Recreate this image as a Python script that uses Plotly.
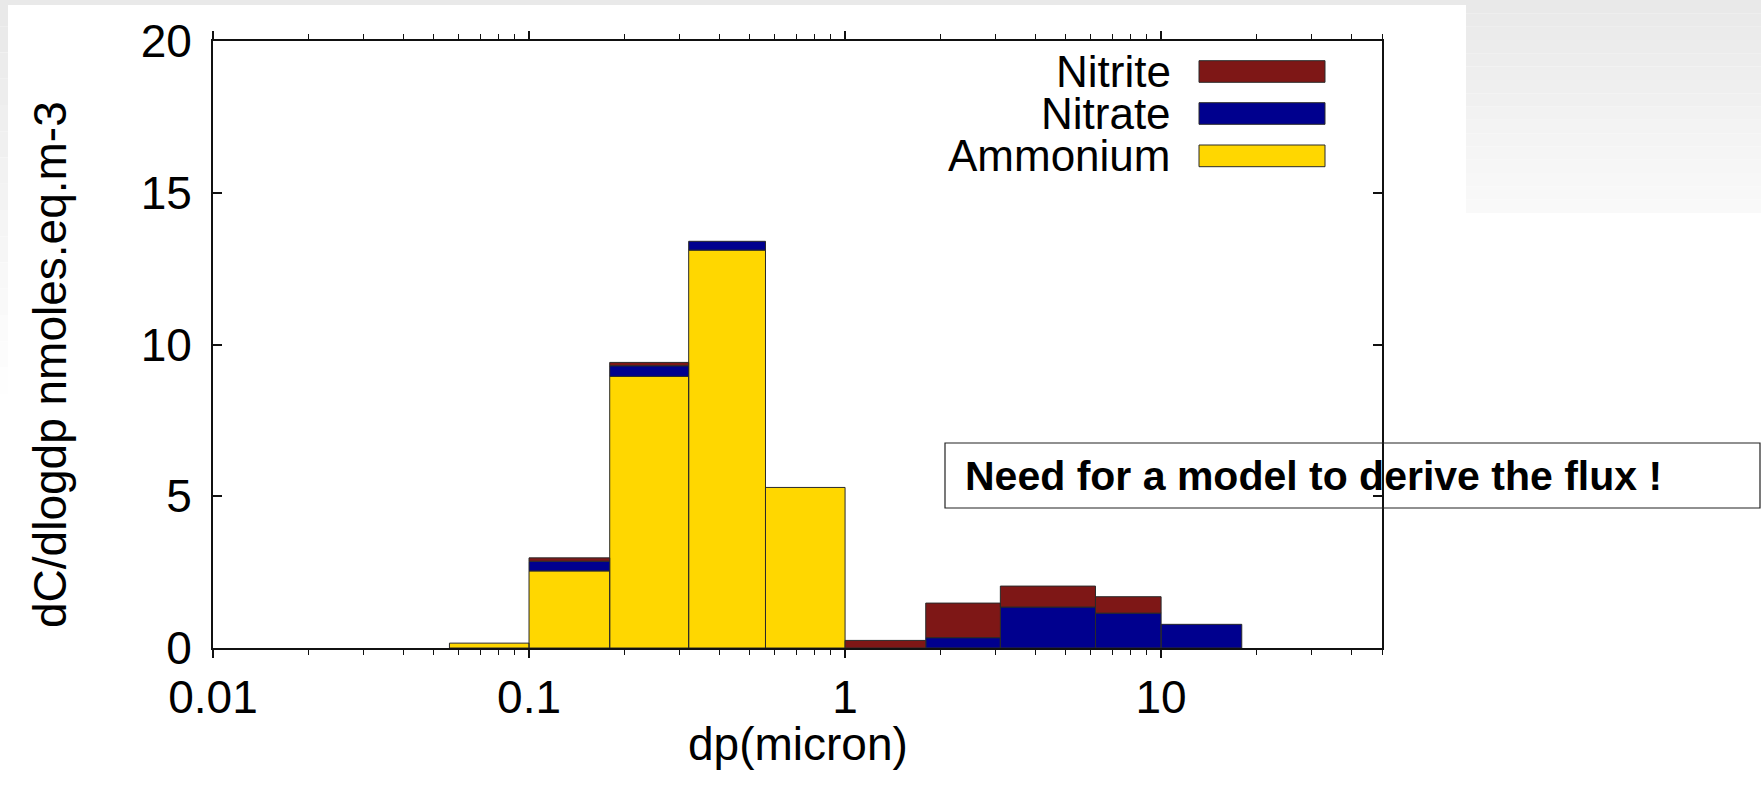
import plotly.graph_objects as go

# Size-resolved ion concentrations (cascade impactor stages)
bin_lower = [0.056, 0.1, 0.18, 0.32, 0.56, 1.0, 1.8, 3.1, 6.2, 10.0]
bin_upper = [0.1, 0.18, 0.32, 0.56, 1.0, 1.8, 3.1, 6.2, 10.0, 18.0]
ammonium = [0.16, 2.54, 8.95, 13.11, 5.29, 0.0, 0.0, 0.0, 0.0, 0.0]
nitrate = [0.0, 0.32, 0.35, 0.29, 0.0, 0.0, 0.34, 1.35, 1.15, 0.78]
nitrite = [0.0, 0.11, 0.11, 0.0, 0.0, 0.25, 1.14, 0.69, 0.54, 0.0]

series_names = ["Nitrite", "Nitrate", "Ammonium"]
series_colors = {"Ammonium": "#FFD700", "Nitrate": "#00008E", "Nitrite": "#7E1716"}

x_tick_vals = [0.01, 0.1, 1, 10]
x_tick_text = ["0.01", "0.1", "1", "10"]
y_tick_vals = [0, 5, 10, 15, 20]

W, H = 1761, 785
ML, MR, MT, MB = 213, 379, 41, 137
PW, PH = W - ML - MR, H - MT - MB


def px_x(px):
    return (px - ML) / PW


def px_y(py):
    return (H - MB - py) / PH


FONT = "Liberation Sans, Arial, Helvetica, sans-serif"
TXT = 46

fig = go.Figure()

# stacked histogram: each species drawn as closed rectangles on top of the previous one
stack = [0.0] * len(bin_lower)
for name, values in [("Ammonium", ammonium), ("Nitrate", nitrate), ("Nitrite", nitrite)]:
    xs, ys = [], []
    for i, v in enumerate(values):
        if v <= 0:
            continue
        lo, hi = bin_lower[i], bin_upper[i]
        b, t = stack[i], stack[i] + v
        xs += [lo, lo, hi, hi, lo, None]
        ys += [b, t, t, b, b, None]
        stack[i] = t
    fig.add_trace(go.Scatter(
        x=xs, y=ys, mode="lines", fill="toself",
        fillcolor=series_colors[name],
        line=dict(color="#2a2a2a", width=1),
        name=name, showlegend=False, hoverinfo="skip",
    ))

shapes = []


def band_gradient(x0, x1, y0, y1, c0, c1, n=16):
    for k in range(n):
        f = k / (n - 1)
        c = [round(c0[j] + (c1[j] - c0[j]) * f) for j in range(3)]
        ya = y0 + (y1 - y0) * k / n
        yb = y0 + (y1 - y0) * (k + 1) / n
        shapes.append(dict(
            type="rect", xref="paper", yref="paper", layer="below",
            x0=px_x(x0), x1=px_x(x1), y0=px_y(ya), y1=px_y(yb),
            fillcolor="rgb(%d,%d,%d)" % tuple(c), line=dict(width=0),
        ))


# slide background around the chart panel
band_gradient(1466, W, 0, 213, (233, 233, 233), (249, 249, 249))
band_gradient(0, 8, 0, 420, (233, 233, 233), (255, 255, 255))
shapes.append(dict(type="rect", xref="paper", yref="paper", layer="below",
                   x0=px_x(0), x1=px_x(W), y0=px_y(0), y1=px_y(5),
                   fillcolor="rgb(233,233,233)", line=dict(width=0)))

# legend swatches (text to the left, colour box to the right)
legend_rows = {"Nitrite": (60.7, 82.3), "Nitrate": (102.7, 124.3), "Ammonium": (145.0, 166.7)}
annotations = []
for name in series_names:
    top, bot = legend_rows[name]
    shapes.append(dict(type="rect", xref="paper", yref="paper",
                       x0=px_x(1199), x1=px_x(1325), y0=px_y(bot), y1=px_y(top),
                       fillcolor=series_colors[name], line=dict(color="#2a2a2a", width=1)))
    annotations.append(dict(xref="paper", yref="paper", x=px_x(1172), y=px_y((top + bot) / 2),
                            text=name, showarrow=False, xanchor="right", yanchor="middle",
                            borderpad=0,
                            font=dict(family=FONT, size=44, color="black")))

# axis titles
annotations.append(dict(xref="paper", yref="paper", x=px_x(50), y=px_y(365),
                        text="dC/dlogdp nmoles.eq.m-3", textangle=-90, showarrow=False,
                        xanchor="center", yanchor="middle",
                        font=dict(family=FONT, size=TXT, color="black")))
annotations.append(dict(xref="paper", yref="paper", x=0.5, y=px_y(744),
                        text="dp(micron)", showarrow=False,
                        xanchor="center", yanchor="middle",
                        font=dict(family=FONT, size=TXT, color="black")))

# callout box
shapes.append(dict(type="rect", xref="paper", yref="paper",
                   x0=px_x(945), x1=px_x(1760), y0=px_y(508), y1=px_y(443),
                   line=dict(color="#222", width=1.2), fillcolor="rgba(0,0,0,0)"))
annotations.append(dict(xref="paper", yref="paper", x=px_x(963), y=px_y(476),
                        text="<b>Need for a model to derive the flux !</b>", showarrow=False,
                        xanchor="left", yanchor="middle",
                        font=dict(family=FONT, size=41, color="black")))

# page number, cut by the bottom edge
annotations.append(dict(xref="paper", yref="paper", x=px_x(1664), y=px_y(781),
                        text="26", showarrow=False, xanchor="center", yanchor="top",
                        font=dict(family=FONT, size=34, color="black")))

minor_vals = [m * 10 ** e for e in (-2, -1, 0, 1) for m in range(2, 10) if m * 10 ** e <= 50]

fig.update_layout(
    width=W, height=H,
    margin=dict(l=ML, r=MR, t=MT, b=MB, pad=0),
    paper_bgcolor="white", plot_bgcolor="white",
    font=dict(family=FONT, size=TXT, color="black"),
    shapes=shapes, annotations=annotations,
    showlegend=False,
    xaxis=dict(
        type="log", range=[-2, 1.69897],
        tickmode="array", tickvals=x_tick_vals, ticktext=x_tick_text,
        ticks="outside", ticklen=8, tickwidth=1.5, tickcolor="#111",
        minor=dict(tickmode="array", tickvals=minor_vals, ticks="outside",
                   ticklen=5, tickwidth=1.2, tickcolor="#111", showgrid=False),
        showline=True, linecolor="#111", linewidth=1.8, mirror="ticks",
        showgrid=False, zeroline=False,
        tickfont=dict(family=FONT, size=TXT, color="black"),
        ticklabelstandoff=0,
    ),
    yaxis=dict(
        range=[0, 20], tickmode="array", tickvals=y_tick_vals,
        ticks="inside", ticklen=9, tickwidth=1.5, tickcolor="#111",
        showline=True, linecolor="#111", linewidth=1.8, mirror="ticks",
        showgrid=False, zeroline=False,
        tickfont=dict(family=FONT, size=TXT, color="black"),
        ticklabelstandoff=10,
    ),
)

fig.write_html("out.html")
